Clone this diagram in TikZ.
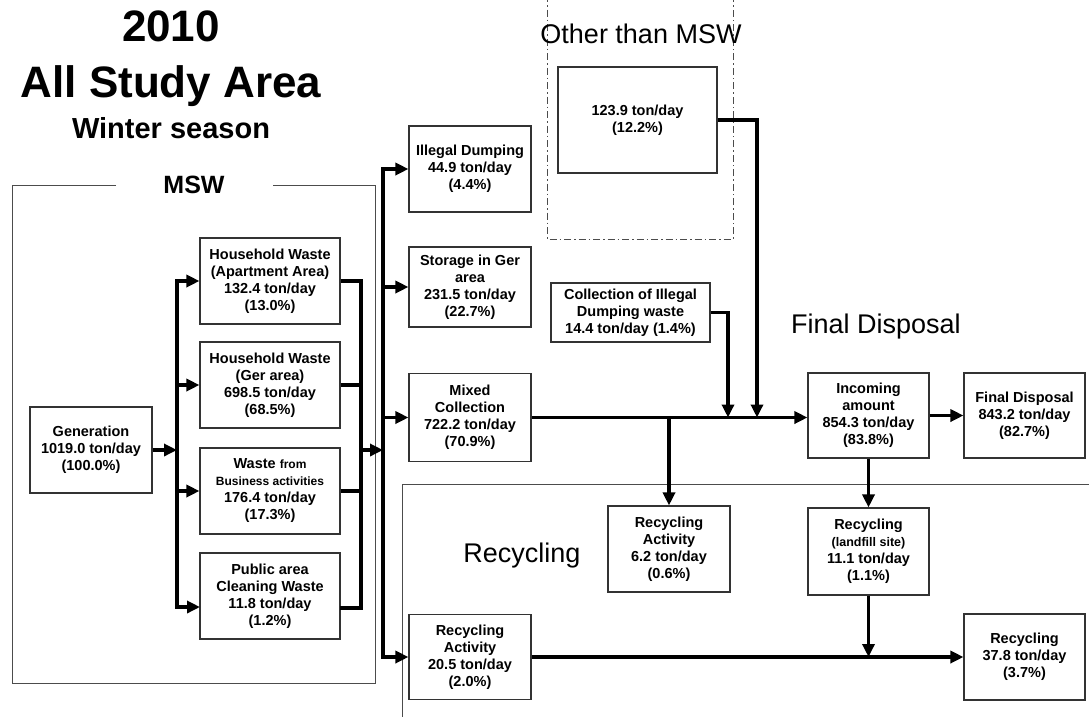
\documentclass[tikz,border=0pt]{standalone}
\usepackage{fontspec}
\setmainfont{Liberation Sans}
\usetikzlibrary{arrows.meta}
\begin{document}
\begin{tikzpicture}[x=1pt,y=-1pt,
  box/.style={draw=black!80, line width=1.1pt, fill=white, align=center,
    inner sep=1pt, font=\bfseries\fontsize{14.5}{17}\selectfont},
  flow/.style={line width=3.6pt, -{Triangle[length=13pt,width=12pt]}},
  pipe/.style={line width=3.6pt},
  frame/.style={draw=black!70, line width=1pt},
  heading/.style={anchor=base, font=\fontsize{27}{30}\selectfont},
]
\useasboundingbox (0,0) rectangle (1089,716);

% ---- titles ----
\node[anchor=base, font=\bfseries\fontsize{44}{48}\selectfont] (year) at (171,41) {2010};
\node[anchor=base, font=\bfseries\fontsize{44}{48}\selectfont] (area) at (171,97) {All Study Area};
\node[anchor=base, font=\bfseries\fontsize{29}{34}\selectfont] (season) at (171,138) {Winter season};

% ---- group frames ----
\draw[frame] (116,185) -- (12,185) -- (12,683) -- (375,683) -- (375,185) -- (273,185);
\node[heading, font=\bfseries\fontsize{25}{30}\selectfont] (msw) at (194,193) {MSW};

\draw[draw=black!70, line width=1pt, dash pattern=on 7pt off 3pt on 1.5pt off 3pt]
  (547,-5) -- (547,239) -- (733,239) -- (733,-5);
\node[heading] (othermsw) at (641,43) {Other than MSW};

\draw[frame] (1095,484) -- (402,484) -- (402,722);
\node[heading] (reclabel) at (522,562) {Recycling};
\node[heading] (fdlabel) at (876,333) {Final Disposal};

% ---- boxes ----
\node[box, minimum width=122pt, minimum height=86pt] (gen) at (91,450)
  {Generation\\1019.0 ton/day\\(100.0\%)};
\node[box, minimum width=140pt, minimum height=86pt] (hha) at (270,281)
  {Household Waste\\(Apartment Area)\\132.4 ton/day\\(13.0\%)};
\node[box, minimum width=140pt, minimum height=86pt] (hhg) at (270,385)
  {Household Waste\\(Ger area)\\698.5 ton/day\\(68.5\%)};
\node[box, minimum width=140pt, minimum height=86pt] (biz) at (270,491)
  {Waste {\fontsize{12}{17}\selectfont from}\\{\fontsize{12}{17}\selectfont Business activities}\\176.4 ton/day\\(17.3\%)};
\node[box, minimum width=140pt, minimum height=86pt] (pub) at (270,596)
  {Public area\\Cleaning Waste\\11.8 ton/day\\(1.2\%)};

\node[box, minimum width=122pt, minimum height=86pt] (illegal) at (470,169)
  {Illegal Dumping\\44.9 ton/day\\(4.4\%)};
\node[box, minimum width=122pt, minimum height=80pt] (storage) at (470,287)
  {Storage in Ger\\area\\231.5 ton/day\\(22.7\%)};
\node[box, minimum width=122pt, minimum height=88pt] (mixed) at (470,417.5)
  {Mixed\\Collection\\722.2 ton/day\\(70.9\%)};
\node[box, minimum width=122pt, minimum height=85pt] (rec20) at (470,657)
  {Recycling\\Activity\\20.5 ton/day\\(2.0\%)};

\node[box, minimum width=159pt, minimum height=106pt] (other) at (637.5,120)
  {123.9 ton/day\\(12.2\%)};
\node[box, minimum width=159pt, minimum height=59pt] (coll) at (630.5,312.5)
  {Collection of Illegal\\Dumping waste\\14.4 ton/day (1.4\%)};
\node[box, minimum width=122pt, minimum height=86pt] (rec6) at (669,549)
  {Recycling\\Activity\\6.2 ton/day\\(0.6\%)};

\node[box, minimum width=121pt, minimum height=85pt] (incoming) at (868.5,415.5)
  {Incoming\\amount\\854.3 ton/day\\(83.8\%)};
\node[box, minimum width=121pt, minimum height=85pt] (final) at (1024.5,415.5)
  {Final Disposal\\843.2 ton/day\\(82.7\%)};
\node[box, minimum width=121pt, minimum height=87pt] (landfill) at (868.5,551.5)
  {Recycling\\{\fontsize{12.5}{17}\selectfont (landfill site)}\\11.1 ton/day\\(1.1\%)};
\node[box, minimum width=121pt, minimum height=86pt] (rec37) at (1024.5,657)
  {Recycling\\37.8 ton/day\\(3.7\%)};

% ---- junction points ----
\coordinate (lbus) at (177,450);
\coordinate (rbus) at (361,450);
\coordinate (mbus) at (383,450);
\coordinate (pubin) at (200,607);
\coordinate (pubout) at (340,608);
\coordinate (jcoll) at (728,417.5);
\coordinate (jother) at (757,417.5);

% ---- generation split ----
\draw[flow] (gen.east) -- (lbus);
\draw[flow] (lbus) |- (hha.west);
\draw[flow] (lbus) |- (hhg.west);
\draw[flow] (lbus) |- (biz.west);
\draw[flow] (lbus) |- (pubin);

% ---- MSW merge ----
\draw[pipe] (hha.east) -| (rbus);
\draw[pipe] (hhg.east) -| (rbus);
\draw[pipe] (biz.east) -| (rbus);
\draw[pipe] (pubout) -| (rbus);
\draw[flow] (rbus) -- (mbus);

% ---- distribution ----
\draw[flow] (mbus) |- (illegal.west);
\draw[flow] (mbus) |- (storage.west);
\draw[flow] (mbus) |- (mixed.west);
\draw[flow] (mbus) |- (rec20.west);

% ---- collection to disposal ----
\draw[flow] (mixed.east) -- (mixed.east -| incoming.west);
\draw[flow] (mixed.east -| rec6.north) -- (rec6.north);
\draw[flow] (coll.east) -| (jcoll);
\draw[flow] (other.east) -| (jother);
\draw[flow] (incoming.east) -- (final.west);
\draw[flow] (incoming.south) -- (landfill.north);
\draw[flow] (landfill.south) -- (landfill.south |- rec20.east);
\draw[flow] (rec20.east) -- (rec20.east -| rec37.west);
\end{tikzpicture}
\end{document}
